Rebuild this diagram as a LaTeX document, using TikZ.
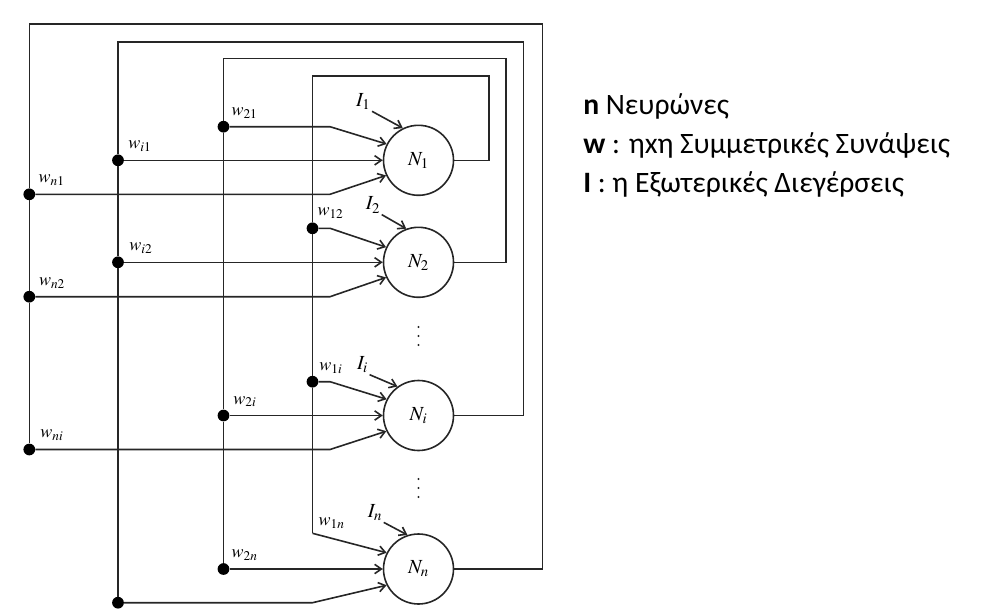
\documentclass[tikz,border=0pt]{standalone}
\usepackage{mathptmx}
\usepackage[no-math]{fontspec}
\newfontfamily\carlito{Carlito}
\usetikzlibrary{arrows.meta}
\begin{document}
\begin{tikzpicture}[x=0.75pt,y=-0.75pt,
  wire/.style={line width=1.2pt, draw=black!85},
  arr/.style={wire, -{Straight Barb[length=5pt,width=7pt]}},
  neuron/.style={circle, draw=black!85, line width=1.2pt, minimum size=52.5pt, inner sep=0pt, font=\fontsize{15}{17}\selectfont},
  dot/.style={circle, fill=black, minimum size=8.8pt, inner sep=0pt},
  smalldot/.style={fill=black!85},
  wlab/.style={font=\fontsize{13.5}{15}\selectfont, inner sep=1pt},
  ilab/.style={font=\fontsize{15}{17}\selectfont, inner sep=1pt},
  legend/.style={font=\carlito\fontsize{22.2}{26}\selectfont, anchor=base west, inner sep=0pt}]
\useasboundingbox (0,0) rectangle (993,615);

% neurons
\node[neuron] (N1) at (418.5,160.3) {$N_1$};
\node[neuron] (N2) at (418.5,262.3) {$N_2$};
\node[neuron] (Ni) at (418.5,415.5) {$N_i$};
\node[neuron] (Nn) at (418.5,569) {$N_n$};

% vertical ellipses
\coordinate (v1) at (418.5,336);
\coordinate (v2) at (418.5,488);
\foreach \c in {v1,v2} {
  \fill[smalldot] (\c) ++(0,-9) circle (1.2);
  \fill[smalldot] (\c) circle (1.2);
  \fill[smalldot] (\c) ++(0,9) circle (1.2);
}

% junction dots
\node[dot] (d12) at (312.5,228.3) {};
\node[dot] (d1i) at (312.5,381.7) {};
\coordinate (c1n) at (312.5,533.3);
\node[dot] (d21) at (223.5,126.7) {};
\node[dot] (d2i) at (223.5,415.5) {};
\node[dot] (d2n) at (223.5,569) {};
\node[dot] (di1) at (118,160.3) {};
\node[dot] (di2) at (118,262.3) {};
\node[dot] (din) at (118,602.7) {};
\node[dot] (dn1) at (29.3,194.3) {};
\node[dot] (dn2) at (29.3,296.7) {};
\node[dot] (dni) at (29.3,449.5) {};

% loop corners
\coordinate (t1) at (489,75.7);
\coordinate (t2) at (506,58.3);
\coordinate (t3) at (523.3,41.7);
\coordinate (t4) at (542.3,24);
\coordinate (bx) at (330,0);

% feedback wires
\draw[wire] (N1.east) -| (t1) -| (d12);
\draw[wire] (d12) -- (d1i);
\draw[wire] (d1i) -- (c1n);
\draw[wire] (N2.east) -| (t2) -| (d21);
\draw[wire] (d21) -- (d2i);
\draw[wire] (d2i) -- (d2n);
\draw[wire] (Ni.east) -| (t3) -| (di1);
\draw[wire] (di1) -- (di2);
\draw[wire] (di2) -- (din);
\draw[wire] (Nn.east) -| (t4) -| (dn1);
\draw[wire] (dn1) -- (dn2);
\draw[wire] (dn2) -- (dni);

% inputs to N1
\draw[arr] (d21) -- (d21 -| bx) -- (N1.153);
\draw[arr] (di1) -- (N1.west);
\draw[arr] (dn1) -- (dn1 -| bx) -- (N1.205);
% inputs to N2
\draw[arr] (d12) -- (d12 -| bx) -- (N2.155);
\draw[arr] (di2) -- (N2.west);
\draw[arr] (dn2) -- (dn2 -| bx) -- (N2.205);
% inputs to Ni
\draw[arr] (d1i) -- (d1i -| bx) -- (Ni.153);
\draw[arr] (d2i) -- (Ni.west);
\draw[arr] (dni) -- (dni -| bx) -- (Ni.206);
% inputs to Nn
\draw[arr] (c1n) -- (Nn.153);
\draw[arr] (d2n) -- (Nn.west);
\draw[arr] (din) -- (din -| c1n) -- (Nn.207);

% external inputs
\node[ilab] (I1) at (363.3,101.7) {$I_1$};
\node[ilab] (I2) at (373,205) {$I_2$};
\node[ilab] (Ii) at (362.5,365) {$I_i$};
\node[ilab] (In) at (375,512.7) {$I_n$};
\draw[arr] (I1.south east) -- (N1.116);
\draw[arr] (I2.south east) -- (N2.110);
\draw[arr] (Ii.south east) -- (Ni.126);
\draw[arr] (In.south east) -- (Nn.108);

% weight labels
\node[wlab] (l21) at (244.5,113) {$w_{21}$};
\node[wlab] (li1) at (140,146) {$w_{i1}$};
\node[wlab] (ln1) at (51.7,180) {$w_{n1}$};
\node[wlab] (l12) at (330.5,213) {$w_{12}$};
\node[wlab] (li2) at (141,248.3) {$w_{i2}$};
\node[wlab] (ln2) at (52,283.3) {$w_{n2}$};
\node[wlab] (l1i) at (331,368.3) {$w_{1i}$};
\node[wlab] (l2i) at (245,401.7) {$w_{2i}$};
\node[wlab] (lni) at (52,435) {$w_{ni}$};
\node[wlab] (l1n) at (331.7,523.3) {$w_{1n}$};
\node[wlab] (l2n) at (244.6,555) {$w_{2n}$};

% legend
\node[legend] (L1) at (583,114) {\textbf{n} Νευρώνες};
\node[legend] (L2) at (583,153) {\textbf{w} : ηxη Συμμετρικές Συνάψεις};
\node[legend] (L3) at (583,192) {\textbf{I} : η Εξωτερικές Διεγέρσεις};
\end{tikzpicture}
\end{document}
